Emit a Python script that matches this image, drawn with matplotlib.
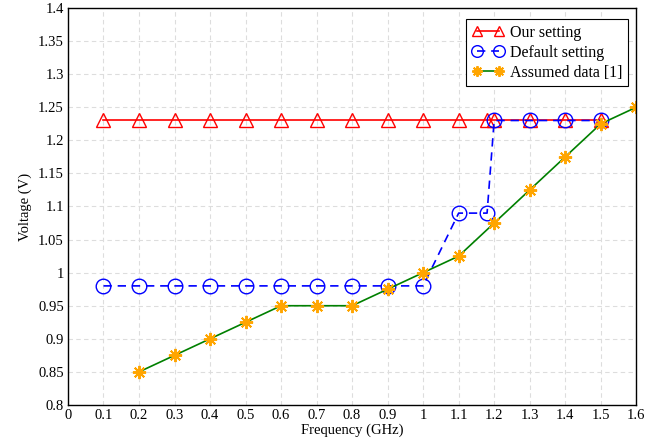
import matplotlib
matplotlib.use("Agg")
import matplotlib.pyplot as plt
import numpy as np

# 데이터
our_x = [0.1, 0.2, 0.3, 0.4, 0.5, 0.6, 0.7, 0.8, 0.9, 1.0, 1.1, 1.18, 1.2, 1.3, 1.4, 1.5]
our_y = [1.23] * len(our_x)

default_x = [0.1, 0.2, 0.3, 0.4, 0.5, 0.6, 0.7, 0.8, 0.9, 1.0, 1.1, 1.18, 1.2, 1.3, 1.4, 1.5]
default_y = [0.98, 0.98, 0.98, 0.98, 0.98, 0.98, 0.98, 0.98, 0.98, 0.98,
             1.09, 1.09, 1.23, 1.23, 1.23, 1.23]

assumed_x = [0.2, 0.3, 0.4, 0.5, 0.6, 0.7, 0.8, 0.9, 1.0, 1.1, 1.2, 1.3, 1.4, 1.5, 1.6]
assumed_y = [0.85, 0.875, 0.9, 0.925, 0.95, 0.95, 0.95, 0.975, 1.0, 1.025,
             1.075, 1.125, 1.175, 1.225, 1.25]

plt.rcParams['font.family'] = ['Liberation Serif', 'DejaVu Serif']
plt.rcParams['font.size'] = 10.5

fig = plt.figure(figsize=(6.6, 4.46), dpi=100)
ax = fig.add_axes([0.103, 0.092, 0.861, 0.890])

ax.plot(our_x, our_y, color='red', linestyle='-', linewidth=1.2,
        marker='^', markersize=9.5, markerfacecolor='none', markeredgecolor='red',
        markeredgewidth=1.0, label='Our setting')
ax.plot(default_x, default_y, color='blue', linestyle='--', linewidth=1.2, dashes=(5, 3.5),
        marker='o', markersize=10.5, markerfacecolor='none', markeredgecolor='blue',
        markeredgewidth=1.0, label='Default setting')
ax.plot(assumed_x, assumed_y, color='#008000', linestyle='-', linewidth=1.2,
        marker=(8, 2, 0), markersize=9.5, markeredgecolor='orange',
        markeredgewidth=1.4, label='Assumed data [1]')

ax.set_xlim(0, 1.6)
ax.set_ylim(0.8, 1.4)
ax.set_xticks(np.arange(0, 1.61, 0.1))
ax.set_xticklabels(['0', '0.1', '0.2', '0.3', '0.4', '0.5', '0.6', '0.7', '0.8', '0.9',
                    '1', '1.1', '1.2', '1.3', '1.4', '1.5', '1.6'])
ax.set_yticks(np.arange(0.8, 1.401, 0.05))
ax.set_yticklabels(['0.8', '0.85', '0.9', '0.95', '1', '1.05', '1.1', '1.15', '1.2',
                    '1.25', '1.3', '1.35', '1.4'])
ax.tick_params(direction='in', length=0, pad=3)
ax.grid(True, color='#dddddd', linestyle='--', linewidth=0.8, dashes=(4, 3))
ax.set_axisbelow(True)
for s in ax.spines.values():
    s.set_linewidth(1.0)

ax.set_xlabel('Frequency (GHz)', labelpad=1)
ax.set_ylabel('Voltage (V)', labelpad=4)

leg = ax.legend(loc='upper right', bbox_to_anchor=(0.986, 0.972), fancybox=False,
                edgecolor='black', framealpha=1, numpoints=2, handlelength=2.0,
                handletextpad=0.4, borderpad=0.35, labelspacing=0.25, fontsize=11.5,
                borderaxespad=0, markerscale=0.8)
leg.get_frame().set_linewidth(0.8)

fig.savefig('out.png', dpi=100)
